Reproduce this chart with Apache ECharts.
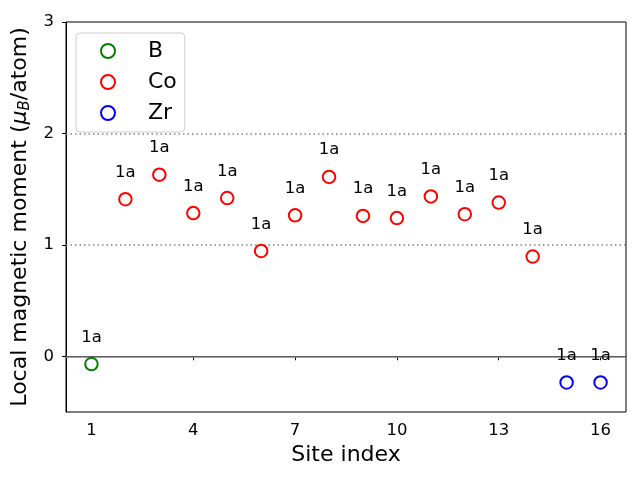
<!DOCTYPE html>
<html>
<head>
<meta charset="utf-8">
<script src="https://cdn.jsdelivr.net/npm/echarts@6/dist/echarts.min.js"></script>
<style>html,body{margin:0;padding:0;background:#fff}#c{width:640px;height:480px}</style>
</head>
<body>
<div id="c"></div>
<script>
const bSites = [1];
const bValues = [-0.07];
const coSites = [2,3,4,5,6,7,8,9,10,11,12,13,14];
const coValues = [1.41,1.63,1.285,1.42,0.945,1.265,1.61,1.26,1.24,1.435,1.275,1.38,0.895];
const zrSites = [15,16];
const zrValues = [-0.235,-0.235];
const siteLabels = '1a';
const xTicks = [1,4,7,10,13,16];
const yTicks = [0,1,2,3];

const font = 'DejaVu Sans';
function pairs(xs, ys){ return xs.map((x,i)=>[x, ys[i]]); }
function mkSeries(name, xs, ys, color){
  return {
    name: name, type: 'scatter', symbol: 'emptyCircle', symbolSize: 12.5,
    itemStyle: {color: color, borderColor: color, borderWidth: 1.2, opacity: 1},
    label: {show: true, position: 'top', distance: 11, formatter: siteLabels,
            fontFamily: font, fontSize: 16.5, color: '#000'},
    data: pairs(xs, ys), z: 5
  };
}
const series = [
  mkSeries('B', bSites, bValues, '#008000'),
  mkSeries('Co', coSites, coValues, '#ff0000'),
  mkSeries('Zr', zrSites, zrValues, '#0000ff')
];
series[0].markLine = {
  silent: true, symbol: 'none', label: {show: false}, animation: false,
  data: [
    {yAxis: 0, lineStyle: {color: '#808080', width: 1.5, type: 'solid'}},
    {yAxis: 1, lineStyle: {color: '#808080', width: 1.5, type: [1.5, 3]}},
    {yAxis: 2, lineStyle: {color: '#808080', width: 1.5, type: [1.5, 3]}}
  ]
};
const chart = echarts.init(document.getElementById('c'));
chart.setOption({
  animation: false,
  grid: {left: 66, right: 14, top: 22, bottom: 68, show: true, borderColor: '#000', borderWidth: 1, backgroundColor: 'transparent'},
  legend: {
    left: 76, top: 33, orient: 'vertical',
    padding: [7, 8, 8, 24], itemGap: 9,
    itemWidth: 14, itemHeight: 14,
    borderColor: '#cccccc', borderWidth: 1, borderRadius: 4, backgroundColor: 'rgba(255,255,255,0.8)',
    textStyle: {fontFamily: font, fontSize: 22, color: '#000', padding: [0, 0, 0, 28], lineHeight: 22},
    data: ['B','Co','Zr']
  },
  xAxis: {
    type: 'value', min: 0.25, max: 16.75,
    name: 'Site index', nameLocation: 'middle', nameGap: 30,
    nameTextStyle: {fontFamily: font, fontSize: 22, color: '#000'},
    axisLine: {show: true, lineStyle: {color: '#000', width: 1}},
    axisTick: {show: true, length: 4, inside: false, customValues: xTicks, lineStyle: {color: '#000'}},
    axisLabel: {customValues: xTicks, fontFamily: font, fontSize: 16.5, color: '#000', margin: 10},
    splitLine: {show: false}
  },
  yAxis: {
    type: 'value', min: -0.5, max: 3,
    name: '{n|Local magnetic moment (}{mu|μ}{sub|B}{n|/atom)}', nameLocation: 'middle', nameGap: 23, nameRotate: 90,
    nameTextStyle: {fontFamily: font, fontSize: 22, color: '#000',
      rich: {
        n: {fontFamily: font, fontSize: 22, color: '#000'},
        mu: {fontFamily: font, fontSize: 22, fontStyle: 'italic', color: '#000'},
        sub: {fontFamily: font, fontSize: 15, fontStyle: 'italic', color: '#000', verticalAlign: 'bottom', padding: [10, 0, 0, 0]}
      }},
    axisLine: {show: true, lineStyle: {color: '#000', width: 1}},
    axisTick: {show: true, length: 4, inside: false, customValues: yTicks, lineStyle: {color: '#000'}},
    axisLabel: {customValues: yTicks, fontFamily: font, fontSize: 16.5, color: '#000', margin: 12},
    splitLine: {show: false}
  },
  series: series
});
</script>
</body>
</html>
